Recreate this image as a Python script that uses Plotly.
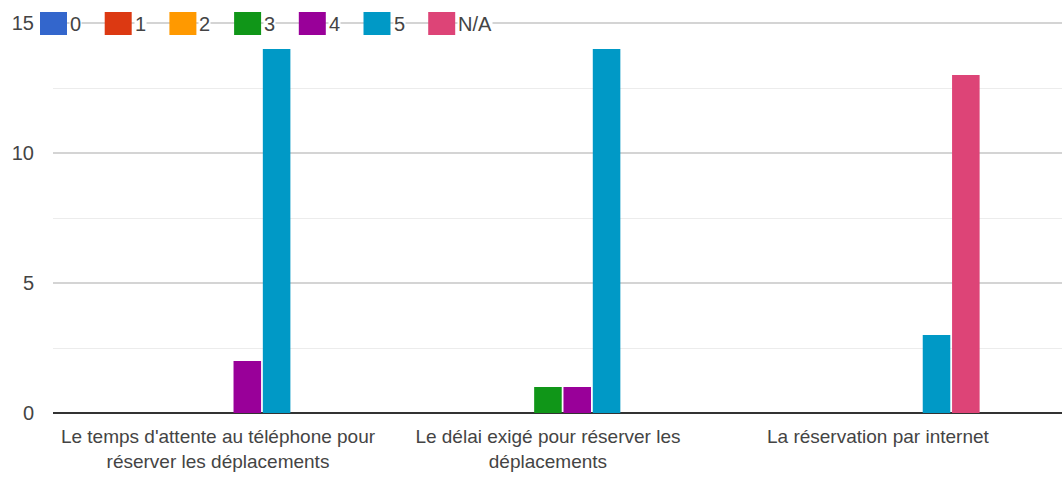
import plotly.graph_objects as go

# Survey answers per question: count of ratings 0..5 and N/A
categories = [
    "Le temps d'attente au téléphone pour<br>réserver les déplacements",
    "Le délai exigé pour réserver les<br>déplacements",
    "La réservation par internet",
]
series_names = ["0", "1", "2", "3", "4", "5", "N/A"]
counts_0 = [0, 0, 0]
counts_1 = [0, 0, 0]
counts_2 = [0, 0, 0]
counts_3 = [0, 1, 0]
counts_4 = [2, 1, 0]
counts_5 = [14, 14, 3]
counts_na = [0, 0, 13]
series_values = [counts_0, counts_1, counts_2, counts_3, counts_4, counts_5, counts_na]
colors = ["#3366cc", "#dc3912", "#ff9900", "#109618", "#990099", "#0099c6", "#dd4477"]

y_ticks = [0, 5, 10, 15]
y_max = 15.04  # a hair above the top tick so its gridline is drawn

W, H = 1062, 487
M_L, M_R, M_T, M_B = 53, 0, 22, 74
plot_w = W - M_L - M_R
plot_h = H - M_T - M_B

FONT = "Liberation Sans, Arial, sans-serif"
TEXT_COLOR = "#444444"

fig = go.Figure()
for name, vals, col in zip(series_names, series_values, colors):
    fig.add_trace(go.Bar(
        name=name, x=categories, y=vals,
        marker=dict(color=col, line=dict(width=0)),
        showlegend=False,
    ))


def px_x(px):
    return (px - M_L) / plot_w


def px_y(py):
    return (H - M_B - py) / plot_h


# Legend row drawn along the top gridline
shapes = []
annotations = []
start_px, step_px = 40, 64.7
sq_w, sq_h = 27, 23
center_y = 23.5
for i, (name, col) in enumerate(zip(series_names, colors)):
    x0 = start_px + i * step_px
    shapes.append(dict(
        type="rect", xref="paper", yref="paper",
        x0=px_x(x0), x1=px_x(x0 + sq_w),
        y0=px_y(center_y + sq_h / 2), y1=px_y(center_y - sq_h / 2),
        fillcolor=col, line=dict(width=0), layer="above",
    ))
    annotations.append(dict(
        xref="paper", yref="paper",
        x=px_x(x0 + sq_w + 2), y=px_y(center_y),
        xanchor="left", yanchor="middle",
        text=name, showarrow=False,
        font=dict(family=FONT, size=20, color=TEXT_COLOR),
        bgcolor="white", borderpad=0,
    ))

fig.update_layout(
    width=W, height=H,
    margin=dict(l=M_L, r=M_R, t=M_T, b=M_B),
    paper_bgcolor="white", plot_bgcolor="white",
    barmode="group", bargap=0.378, bargroupgap=0.06,
    font=dict(family=FONT, size=19, color=TEXT_COLOR),
    shapes=shapes, annotations=annotations,
    showlegend=False,
)
fig.update_xaxes(
    range=[-0.5, 2.558], showgrid=False, showline=False, zeroline=False,
    ticks="", tickfont=dict(size=19, color=TEXT_COLOR), ticklabelstandoff=10,
)
fig.update_yaxes(
    range=[0, y_max], tickvals=y_ticks, ticktext=[str(v) for v in y_ticks],
    showgrid=True, gridcolor="#d4d4d4", gridwidth=1.5,
    minor=dict(dtick=2.5, tick0=0, showgrid=True, gridcolor="#ececec", gridwidth=1.2),
    zeroline=True, zerolinecolor="#333333", zerolinewidth=2,
    showline=False, ticks="", ticklabelstandoff=18,
    tickfont=dict(size=20, color=TEXT_COLOR),
)

fig.write_html("out.html")
